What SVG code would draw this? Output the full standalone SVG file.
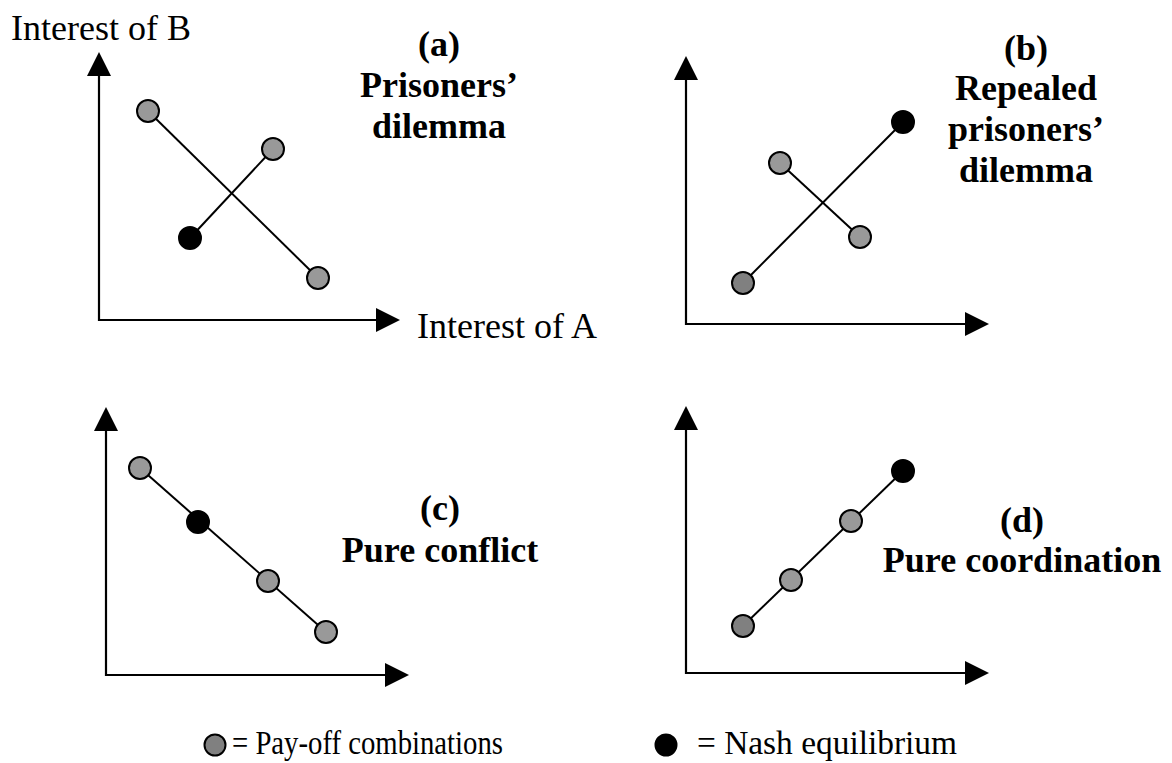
<svg xmlns="http://www.w3.org/2000/svg" width="1172" height="763" viewBox="0 0 1172 763">
<style>
.ax{stroke:#000;stroke-width:2.2;fill:none}
.ah{fill:#000}
.ln{stroke:#000;stroke-width:2;fill:none}
.g{fill:#999;stroke:#000;stroke-width:2}
.gd{fill:#808080;stroke:#000;stroke-width:2}
.k{fill:#000;stroke:#000;stroke-width:2}
.t{font-family:"Liberation Serif","Times New Roman",serif;font-size:36px;fill:#000}
.tb{font-family:"Liberation Serif","Times New Roman",serif;font-size:36px;font-weight:bold;fill:#000;text-anchor:middle}
.lg{font-family:"Liberation Serif","Times New Roman",serif;font-size:34px;fill:#000}
</style>
<rect width="1172" height="763" fill="#fff"/>
<g id="axes">
<path class="ax" d="M99,74 V320 H378"/>
<polygon class="ah" points="99,52 87,76 111,76"/>
<polygon class="ah" points="400,320 376,308 376,332"/>
<path class="ax" d="M686,78 V324 H967"/>
<polygon class="ah" points="686,56 674,80 698,80"/>
<polygon class="ah" points="989,324 965,312 965,336"/>
<path class="ax" d="M106,428 V675 H387"/>
<polygon class="ah" points="106,407 94,431 118,431"/>
<polygon class="ah" points="409,675 385,663 385,687"/>
<path class="ax" d="M686,427 V673 H967"/>
<polygon class="ah" points="686,406 674,430 698,430"/>
<polygon class="ah" points="989,673 965,661 965,685"/>
</g>
<g id="connectors">
<line class="ln" x1="148" y1="111" x2="318" y2="278"/>
<line class="ln" x1="190" y1="238" x2="273" y2="149"/>
<line class="ln" x1="743" y1="283" x2="903" y2="122"/>
<line class="ln" x1="780" y1="163" x2="860" y2="237"/>
<line class="ln" x1="140" y1="468" x2="326" y2="632"/>
<line class="ln" x1="743" y1="626" x2="903" y2="471"/>
</g>
<g id="panel-a">
<circle id="a1" class="g" cx="148" cy="111" r="11"/>
<circle id="a2" class="g" cx="273" cy="149" r="11"/>
<circle id="a3" class="k" cx="190" cy="238" r="11"/>
<circle id="a4" class="g" cx="318" cy="278" r="11"/>
<text class="t" x="11" y="40">Interest of B</text>
<text class="t" x="417" y="338">Interest of A</text>
<text class="tb" x="439" y="56">(a)</text>
<text class="tb" x="439" y="97">Prisoners’</text>
<text class="tb" x="439" y="138">dilemma</text>
</g>
<g id="panel-b">
<circle id="b1" class="k" cx="903" cy="122" r="11"/>
<circle id="b2" class="g" cx="780" cy="163" r="11"/>
<circle id="b3" class="g" cx="860" cy="237" r="11"/>
<circle id="b4" class="gd" cx="743" cy="283" r="11"/>
<text class="tb" x="1026" y="60">(b)</text>
<text class="tb" x="1026" y="100">Repealed</text>
<text class="tb" x="1026" y="141">prisoners’</text>
<text class="tb" x="1026" y="182">dilemma</text>
</g>
<g id="panel-c">
<circle id="c1" class="g" cx="140" cy="468" r="11"/>
<circle id="c2" class="k" cx="198" cy="522" r="11"/>
<circle id="c3" class="g" cx="268" cy="581" r="11"/>
<circle id="c4" class="g" cx="326" cy="632" r="11"/>
<text class="tb" x="440" y="520">(c)</text>
<text class="tb" x="440" y="562">Pure conflict</text>
</g>
<g id="panel-d">
<circle id="d1" class="k" cx="903" cy="471" r="11"/>
<circle id="d2" class="g" cx="851" cy="521" r="11"/>
<circle id="d3" class="g" cx="791" cy="580" r="11"/>
<circle id="d4" class="gd" cx="743" cy="626" r="11"/>
<text class="tb" x="1022" y="532">(d)</text>
<text class="tb" x="1022" y="572">Pure coordination</text>
</g>
<g id="legend">
<circle id="leg-payoff" class="gd" cx="215" cy="745" r="10.5"/>
<text class="lg" x="232" y="754" textLength="271" lengthAdjust="spacingAndGlyphs">= Pay-off combinations</text>
<circle id="leg-nash" class="k" cx="666" cy="745" r="10.5"/>
<text class="lg" x="697" y="754" textLength="260" lengthAdjust="spacingAndGlyphs">= Nash equilibrium</text>
</g>
</svg>
